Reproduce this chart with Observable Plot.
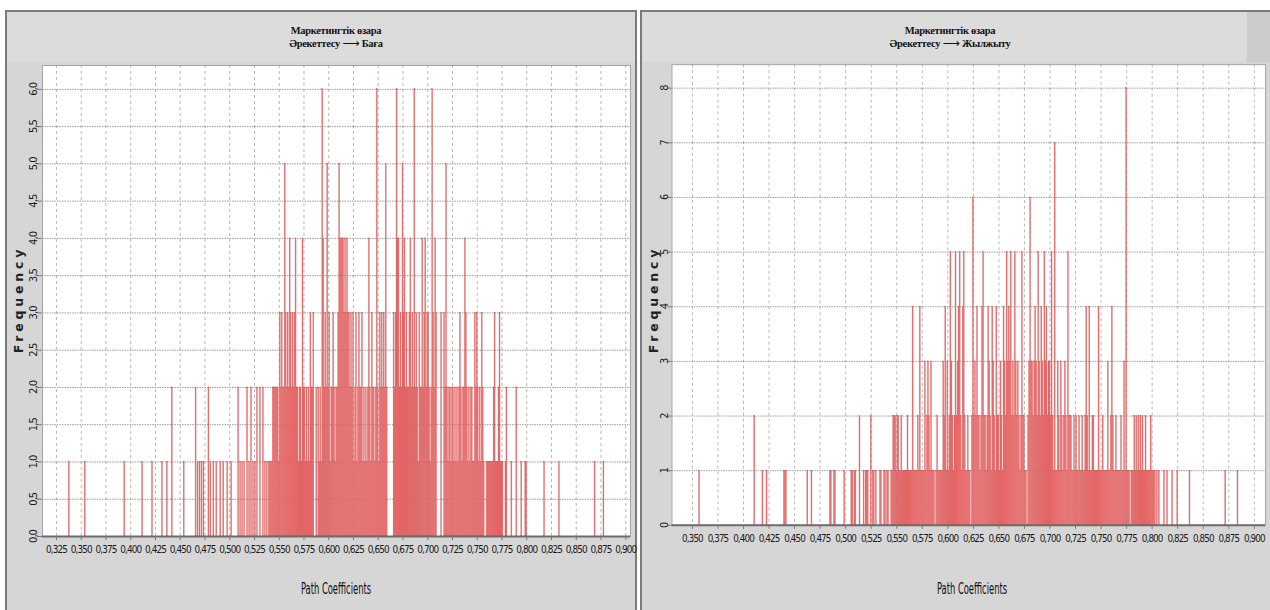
<!DOCTYPE html>
<html><head><meta charset="utf-8">
<script src="https://cdn.jsdelivr.net/npm/d3@7"></script>
<script src="https://cdn.jsdelivr.net/npm/@observablehq/plot@0.6"></script>
<style>
body{margin:0;width:1270px;height:610px;overflow:hidden;background:#fff;position:relative}
.panel{position:absolute;top:10px;height:620px;background:#d6d6d6;border:2px solid #7a7a7a;box-sizing:border-box}
.band{position:absolute;top:12px;height:50px;background:#dcdcdc}
.title{position:absolute;text-align:center;font-family:"Liberation Serif","Times New Roman",serif;font-weight:bold;font-size:10.5px;line-height:13px;color:#111;width:300px;letter-spacing:-0.3px}
.title .arr{font-family:"DejaVu Sans",sans-serif;font-weight:normal;font-size:12px;letter-spacing:0}
.xlab{position:absolute;font-family:"DejaVu Sans Condensed","DejaVu Sans",sans-serif;font-size:15px;color:#111;width:200px;text-align:center;transform:scaleX(0.62)}
.ylab{position:absolute;font-family:"DejaVu Sans",sans-serif;font-weight:bold;font-size:12.5px;letter-spacing:3.8px;color:#222;transform:rotate(-90deg);transform-origin:center;width:140px;text-align:center}
.chart{position:absolute}
.chart svg{overflow:visible}
</style></head>
<body>
<div class="panel" style="left:5px;width:632px"></div>
<div class="panel" style="left:640px;width:650px"></div>
<div class="band" style="left:7px;width:628px"></div>
<div class="band" style="left:642px;width:605px"></div>
<div class="band" style="left:1247px;width:30px;background:#cbcbcb"></div>
<div class="title" style="left:186px;top:24px">Маркетингтік өзара<br>Әрекеттесу <span class="arr">⟶</span> Баға</div>
<div class="title" style="left:800px;top:24px">Маркетингтік өзара<br>Әрекеттесу <span class="arr">⟶</span> Жылжыту</div>
<div class="ylab" style="left:-52px;top:292px">Frequency</div>
<div class="ylab" style="left:583px;top:292px">Frequency</div>
<div class="xlab" style="left:236px;top:580px">Path Coefficients</div>
<div class="xlab" style="left:872px;top:580px">Path Coefficients</div>
<div id="c1" class="chart" style="left:5px;top:12px"></div>
<div id="c2" class="chart" style="left:640px;top:12px"></div>
<script>
// ---- Panel 1: Маркетингтік өзара Әрекеттесу -> Баға ----
// frequencies per 0.001 bin, starting at 0.541
const priceDenseStart = 541;
const priceDenseFreq = [
  1,1,1,2,2,2,2,2,2,1,
  3,2,3,2,2,5,3,2,3,2,
  4,3,2,3,2,3,4,2,2,1,
  2,2,1,4,2,2,1,2,1,2,
  1,3,2,2,3,0,0,2,0,2,
  1,2,1,6,4,2,3,2,5,2,
  3,1,2,2,3,2,1,2,2,3,
  5,4,4,4,4,3,4,3,4,3,
  3,2,3,2,3,1,2,3,1,2,
  3,2,2,3,1,2,1,2,1,2,
  4,2,1,3,2,2,1,2,6,2,
  1,3,2,3,2,3,2,5,2,0,
  0,0,0,0,0,3,2,3,6,4,
  4,2,3,2,5,3,4,2,3,2,
  2,3,4,2,3,2,6,2,3,2,
  1,3,2,2,4,2,3,4,2,3,
  3,2,1,2,6,3,2,4,3,0,
  0,0,0,3,0,0,3,2,5,2,
  1,2,2,1,2,2,1,2,1,2,
  1,2,3,2,1,2,2,4,3,2,
  1,2,1,2,2,1,1,3,2,3,
  2,1,2,1,3,2,1,0,0,1,
  1,1,1,1,1,1,2,3,1,1,
  1,2,3,1,1,1,0,0,1,2
];
// isolated bins (coefficient in thousandths)
const priceSparseCoef = [338,354,394,412,422,432,437,442,454,466,468,470,472,474,479,481,484,487,491,494,498,502,509,511,513,515,518,520,522,524,526,528,531,534,536,538,540,785,790,795,799,800,818,833,869,878];
const priceSparseFreq = [1,1,1,1,1,1,1,2,1,2,1,1,1,1,2,1,1,1,1,1,1,1,2,1,1,1,2,1,2,1,1,2,2,2,1,1,1,1,2,1,1,1,1,1,1,1];
const priceXTicks = [0.325,0.350,0.375,0.400,0.425,0.450,0.475,0.500,0.525,0.550,0.575,0.600,0.625,0.650,0.675,0.700,0.725,0.750,0.775,0.800,0.825,0.850,0.875,0.900];
const priceYTicks = [0,0.5,1,1.5,2,2.5,3,3.5,4,4.5,5,5.5,6];

// ---- Panel 2: Маркетингтік өзара Әрекеттесу -> Жылжыту ----
const promoDenseStart = 545;
const promoDenseFreq = [
  1,1,2,2,2,1,2,2,1,1,
  2,1,1,1,1,1,2,1,1,1,
  1,4,1,1,1,1,2,1,4,1,
  1,1,1,3,1,2,3,2,1,3,
  1,1,1,0,1,2,1,1,1,1,
  1,3,2,4,1,3,1,2,5,3,
  2,1,2,5,2,3,4,5,2,1,
  4,5,2,1,1,2,1,1,0,2,
  6,2,3,2,4,2,2,1,2,4,
  5,2,2,1,2,4,3,2,1,4,
  3,2,1,4,2,2,1,3,2,1,
  4,3,2,5,3,4,3,5,2,3,
  2,5,3,2,3,2,1,2,5,2,
  2,1,1,0,2,3,6,3,3,2,
  3,4,3,2,5,3,2,4,3,2,
  5,3,4,2,3,3,2,5,2,1,
  7,1,1,3,2,1,3,2,1,2,
  3,2,1,5,2,2,2,1,1,2,
  1,2,1,1,2,1,1,2,1,1,
  2,4,2,1,4,1,1,2,2,1,
  1,1,1,4,1,1,1,2,1,1,
  1,1,3,1,1,2,4,2,1,1,
  2,1,1,1,1,2,1,1,3,1,
  8,1,1,1,0,1,1,1,2,1,
  2,1,2,1,2,1,2,1,1,2,
  1,1,1,1,2,1,1,1,1
];
const promoSparseCoef = [357,411,419,423,440,441,442,463,467,485,486,489,490,499,506,507,509,510,514,518,520,521,522,525,527,528,530,534,535,538,539,541,542,805,807,812,815,820,825,837,872,884];
const promoSparseFreq = [1,2,1,1,1,1,1,1,1,1,1,1,1,1,1,1,1,1,2,1,1,1,1,2,1,1,1,1,1,1,1,1,1,1,1,1,1,1,1,1,1,1];
const promoXTicks = [0.350,0.375,0.400,0.425,0.450,0.475,0.500,0.525,0.550,0.575,0.600,0.625,0.650,0.675,0.700,0.725,0.750,0.775,0.800,0.825,0.850,0.875,0.900];
const promoYTicks = [0,1,2,3,4,5,6,7,8];

function bins(start, dense, sCoef, sFreq) {
  const out = [];
  dense.forEach((n, i) => { if (n > 0) out.push({v: (start + i) / 1000, n}); });
  sCoef.forEach((c, i) => out.push({v: c / 1000, n: sFreq[i]}));
  return out;
}

const comma = (d, k) => d.toFixed(k).replace(".", ",");

function chart({data, xDomain, yDomain, xTicks, yTicks, yFmt, width, height, ml, mr, mt, mb, yPad}) {
  const svg = Plot.plot({
    width, height, marginLeft: ml, marginRight: mr, marginTop: mt, marginBottom: mb,
    style: {background: "transparent", fontFamily: "'DejaVu Sans Condensed','DejaVu Sans',sans-serif", fontSize: "11px", letterSpacing: "-1px", color: "#1a1a1a", overflow: "visible"},
    x: {domain: xDomain, label: null},
    y: {domain: yDomain, label: null},
    marks: [
      Plot.frame({fill: "white"}),
      Plot.gridX(xTicks, {stroke: "#b8b8b8", strokeOpacity: 1, strokeDasharray: "3,3"}),
      Plot.gridY(yTicks, {stroke: "#9a9a9a", strokeOpacity: 1, strokeDasharray: "1.5,1"}),
      Plot.rectY(data, {x1: d => d.v - 0.0005, x2: d => d.v + 0.0005, y: "n", fill: "#f56d6d", stroke: "#c85a5a", strokeWidth: 0.3}),
      Plot.frame({stroke: "#a4a4a4"}),
      Plot.ruleY([0], {stroke: "#6c6c6c", strokeWidth: 2}),
      Plot.axisX(xTicks, {tickSize: 4, tickPadding: 5, tickFormat: d => comma(d, 3), label: null, stroke: "#777"}),
      Plot.axisY(yTicks, {tickSize: 4, tickPadding: yPad, tickRotate: -90, tickFormat: yFmt, label: null, stroke: "#777"})
    ]
  });
  // condensed look of the tick labels
  d3.select(svg).selectAll('g[aria-label="x-axis tick label"] text')
    .attr("textLength", 21).attr("lengthAdjust", "spacingAndGlyphs");
  d3.select(svg).selectAll('g[aria-label="y-axis tick label"] text')
    .each(function() { const t = this.textContent; if (t.length > 1) d3.select(this).attr("textLength", 13).attr("lengthAdjust", "spacingAndGlyphs"); });
  return svg;
}

document.getElementById("c1").append(chart({
  data: bins(priceDenseStart, priceDenseFreq, priceSparseCoef, priceSparseFreq),
  xDomain: [0.3109, 0.9048], yDomain: [0, 6.32],
  xTicks: priceXTicks, yTicks: priceYTicks, yFmt: d => comma(d, 1),
  width: 631, height: 598, ml: 37, mr: 6, mt: 53, mb: 74, yPad: 2
}));
document.getElementById("c2").append(chart({
  data: bins(promoDenseStart, promoDenseFreq, promoSparseCoef, promoSparseFreq),
  xDomain: [0.330, 0.911], yDomain: [0, 8.43],
  xTicks: promoXTicks, yTicks: promoYTicks, yFmt: d => String(d),
  width: 640, height: 598, ml: 32, mr: 5, mt: 53, mb: 77, yPad: 0
}));
</script>
</body></html>
